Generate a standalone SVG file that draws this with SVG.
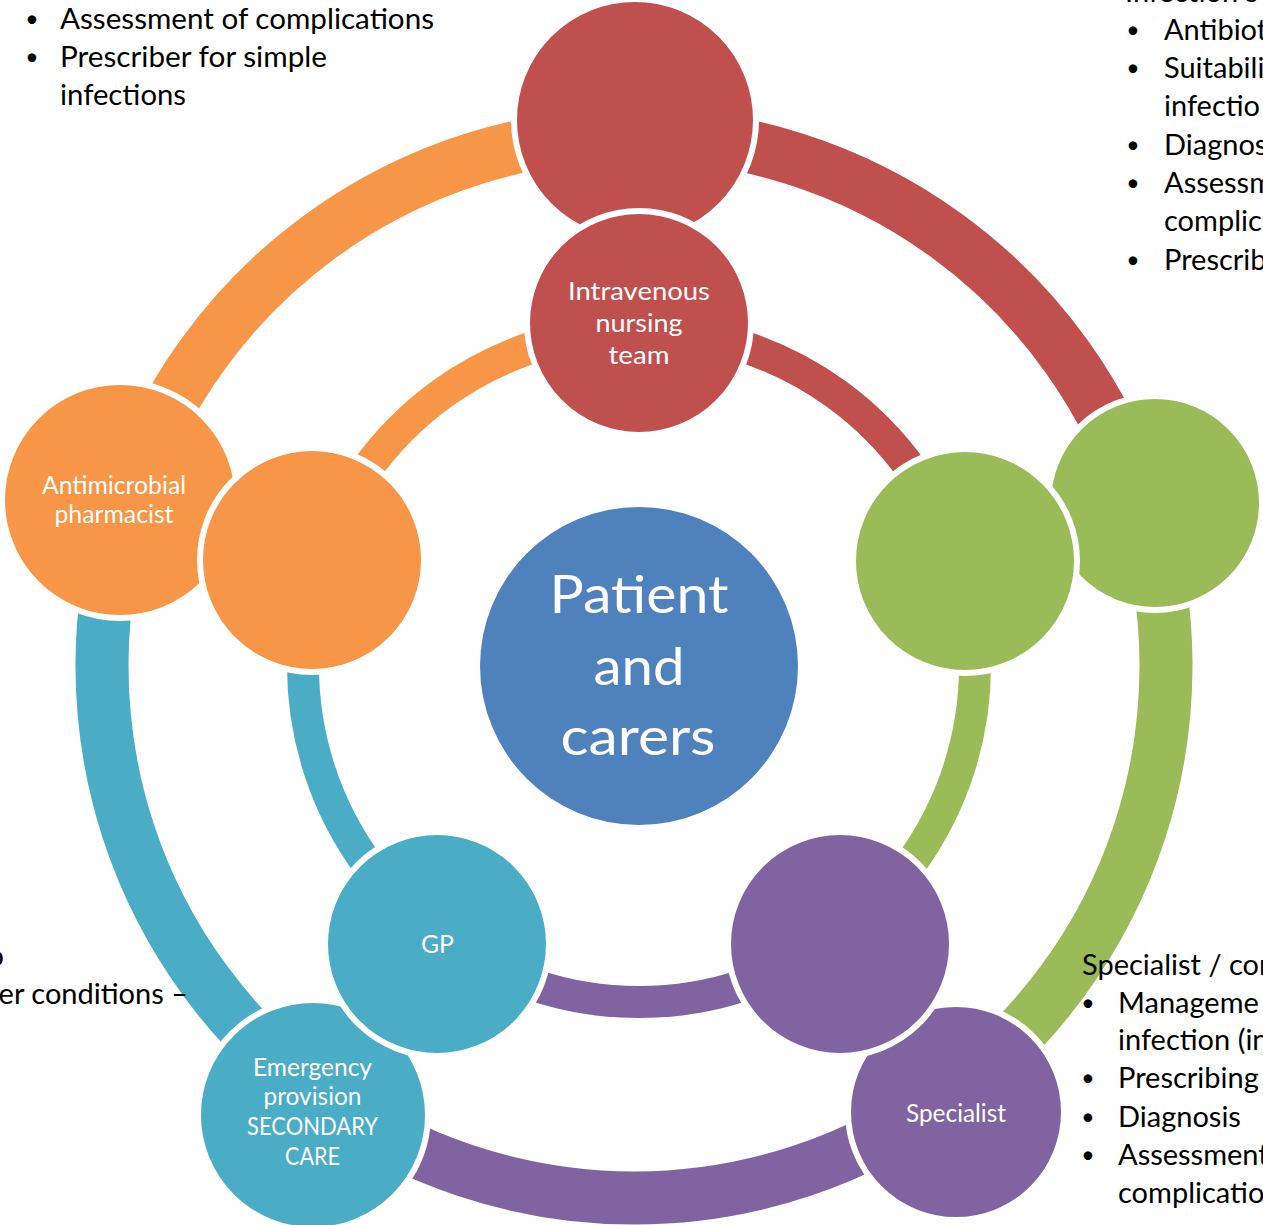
<svg xmlns="http://www.w3.org/2000/svg" width="1263" height="1225" viewBox="0 0 1263 1225">
<defs>
<style>
.arc{fill:none;stroke-linecap:butt}
.in{stroke-width:32}
.out{stroke-width:53}
.node{stroke:#ffffff;stroke-width:6}
.red{fill:#C0504D}.orange{fill:#F79646}.green{fill:#9BBB59}.purple{fill:#8064A2}.blue{fill:#4BACC6}.center{fill:#4F81BD}
.sred{stroke:#C0504D}.sorange{stroke:#F79646}.sgreen{stroke:#9BBB59}.spurple{stroke:#8064A2}.sblue{stroke:#4BACC6}
.lbl{font-family:Lato,"Liberation Sans",sans-serif;font-size:25px;fill:#ffffff;text-anchor:middle}
.big{font-family:Lato,"Liberation Sans",sans-serif;font-size:53px;fill:#ffffff;text-anchor:middle}
.note{font-family:Lato,"Liberation Sans",sans-serif;font-size:29px;fill:#000000}
.bul{font-family:Lato,"Liberation Sans",sans-serif;font-size:23px;fill:#000000;text-anchor:middle}
</style>
</defs>
<rect width="1263" height="1225" fill="#ffffff"/>
<g id="connectors">
<path class="arc out sred" d="M634,134 A532,532 0 0 1 1139.96,501.6"/>
<path class="arc out sgreen" d="M1139.96,501.6 A532,532 0 0 1 946.7,1096.4"/>
<path class="arc out spurple" d="M946.7,1096.4 A532,532 0 0 1 321.3,1096.4"/>
<path class="arc out sblue" d="M321.3,1096.4 A532,532 0 0 1 128.04,501.6"/>
<path class="arc out sorange" d="M128.04,501.6 A532,532 0 0 1 634,134"/>
<path class="arc in sred" d="M639,330 A336,336 0 0 1 958.56,562.17"/>
<path class="arc in sgreen" d="M958.56,562.17 A336,336 0 0 1 836.5,937.83"/>
<path class="arc in spurple" d="M836.5,937.83 A336,336 0 0 1 441.5,937.83"/>
<path class="arc in sblue" d="M441.5,937.83 A336,336 0 0 1 319.44,562.17"/>
<path class="arc in sorange" d="M319.44,562.17 A336,336 0 0 1 639,330"/>
</g>
<g id="outer-top"><circle class="node red" cx="635" cy="120" r="121"/></g>
<g id="outer-right"><circle class="node green" cx="1155" cy="503" r="107"/></g>
<g id="specialist"><circle class="node purple" cx="956" cy="1112" r="108"/>
<text class="lbl" x="956" y="1122" textLength="100" lengthAdjust="spacingAndGlyphs">Specialist</text></g>
<g id="emergency"><circle class="node blue" cx="313" cy="1115" r="115"/>
<text class="lbl" x="312.5" y="1076" textLength="119" lengthAdjust="spacingAndGlyphs">Emergency</text>
<text class="lbl" x="312.5" y="1105" textLength="98" lengthAdjust="spacingAndGlyphs">provision</text>
<text class="lbl" x="312.5" y="1135" textLength="131" lengthAdjust="spacingAndGlyphs">SECONDARY</text>
<text class="lbl" x="312.5" y="1165" textLength="55" lengthAdjust="spacingAndGlyphs">CARE</text></g>
<g id="antimicrobial-pharmacist"><circle class="node orange" cx="120" cy="500" r="118"/>
<text class="lbl" x="114" y="494" textLength="144" lengthAdjust="spacingAndGlyphs">Antimicrobial</text>
<text class="lbl" x="114" y="523" textLength="119" lengthAdjust="spacingAndGlyphs">pharmacist</text></g>
<g id="iv-nursing-team"><circle class="node red" cx="639" cy="323" r="112"/>
<text class="lbl" x="639" y="300" textLength="142" lengthAdjust="spacingAndGlyphs">Intravenous</text>
<text class="lbl" x="639" y="332" textLength="87" lengthAdjust="spacingAndGlyphs">nursing</text>
<text class="lbl" x="639" y="364" textLength="61" lengthAdjust="spacingAndGlyphs">team</text></g>
<g id="inner-right"><circle class="node green" cx="965" cy="561" r="112"/></g>
<g id="inner-purple"><circle class="node purple" cx="840" cy="944" r="112"/></g>
<g id="gp"><circle class="node blue" cx="437" cy="944" r="112"/>
<text class="lbl" x="437.5" y="953" textLength="33" lengthAdjust="spacingAndGlyphs">GP</text></g>
<g id="inner-orange"><circle class="node orange" cx="312" cy="560" r="112"/></g>
<g id="patient"><circle class="center" cx="639" cy="666" r="159"/>
<text class="big" x="639" y="613" textLength="179" lengthAdjust="spacingAndGlyphs">Patient</text>
<text class="big" x="639" y="685" textLength="91" lengthAdjust="spacingAndGlyphs">and</text>
<text class="big" x="638" y="755" textLength="155" lengthAdjust="spacingAndGlyphs">carers</text></g>
<g id="notes">
<text class="bul" x="32" y="27">•</text>
<text class="note" x="60" y="29" textLength="374" lengthAdjust="spacingAndGlyphs">Assessment of complications</text>
<text class="bul" x="32" y="65">•</text>
<text class="note" x="60" y="67" textLength="267" lengthAdjust="spacingAndGlyphs">Prescriber for simple</text>
<text class="note" x="60" y="105" textLength="126" lengthAdjust="spacingAndGlyphs">infections</text>
<text class="note" x="1125" y="2">Infection s</text>
<text class="bul" x="1133" y="38">•</text><text class="note" x="1164" y="40">Antibiot</text>
<text class="bul" x="1133" y="76">•</text><text class="note" x="1164" y="78">Suitabili</text>
<text class="note" x="1164" y="116">infectio</text>
<text class="bul" x="1133" y="153">•</text><text class="note" x="1164" y="155">Diagnos</text>
<text class="bul" x="1133" y="191">•</text><text class="note" x="1164" y="193">Assessm</text>
<text class="note" x="1164" y="231">complic</text>
<text class="bul" x="1133" y="268">•</text><text class="note" x="1164" y="270">Prescrib</text>
<text class="note" x="4" y="966" text-anchor="end">o</text>
<text class="note" x="188" y="1004" text-anchor="end">er conditions –</text>
<text class="note" x="1082" y="975">Specialist / con</text>
<text class="bul" x="1088" y="1011">•</text><text class="note" x="1118" y="1013">Manageme</text>
<text class="note" x="1118" y="1050">infection (in</text>
<text class="bul" x="1088" y="1086">•</text><text class="note" x="1118" y="1088">Prescribing</text>
<text class="bul" x="1088" y="1125">•</text><text class="note" x="1118" y="1127">Diagnosis</text>
<text class="bul" x="1088" y="1163">•</text><text class="note" x="1118" y="1165">Assessment</text>
<text class="note" x="1118" y="1203">complicatio</text>
</g>
</svg>
